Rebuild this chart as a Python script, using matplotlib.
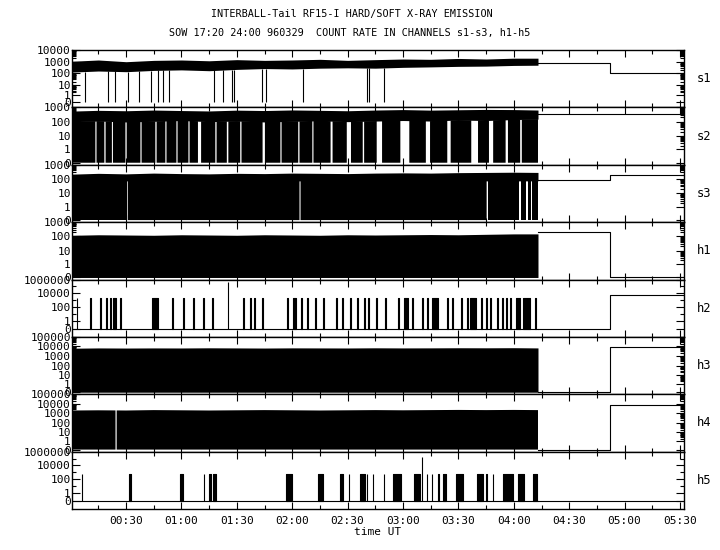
import numpy as np
import matplotlib
matplotlib.use("Agg")
import matplotlib.pyplot as plt
from matplotlib.ticker import FixedLocator, FuncFormatter, MultipleLocator, NullFormatter

plt.rcParams["font.family"] = ["DejaVu Sans Mono"]

# ================= data (time = minutes after 00:00 UT) =================
TITLE1 = "INTERBALL-Tail RF15-I HARD/SOFT X-RAY EMISSION"
TITLE2 = "SOW 17:20 24:00 960329  COUNT RATE IN CHANNELS s1-s3, h1-h5"
XLABEL = "time UT"
CHANNELS = ["s1", "s2", "s3", "h1", "h2", "h3", "h4", "h5"]

T_START, T_END_DATA, T_SWITCH, T_STOP = 0.9, 253.1, 292.1, 331.9

ENV_T = [0.9, 15, 30, 45, 60, 75, 90, 105, 120, 135, 150, 165, 180, 195, 210, 225, 240, 253.1]

# s1
S1_HI = [1100, 1400, 1000, 1300, 1400, 1200, 1500, 1300, 1400, 1600, 1300, 1500, 1700, 1600, 1900, 1700, 2000, 2000]
S1_LO = [130, 160, 140, 180, 200, 170, 220, 260, 240, 280, 300, 280, 330, 360, 400, 420, 480, 500]
S1_DROPS = [7.8, 20.3, 24.0, 31.1, 37.0, 43.5, 47.3, 50.0, 53.3, 77.6, 82.5, 87.4, 88.5,
            103.6, 105.8, 125.8, 160.5, 161.6, 169.7]
S1_TAIL = [713, 110]

# s2
S2_HI = [550, 620, 580, 650, 600, 560, 640, 600, 660, 620, 580, 650, 700, 640, 680, 720, 700, 650]
S2_LO = [100, 110, 95, 105, 120, 100, 110, 95, 105, 115, 100, 110, 120, 110, 130, 120, 140, 150]
S2_GAP_START = [13.4, 18.3, 22.4, 29.7, 37.8, 45.9, 51.3, 57.3, 63.8, 69.0, 78.4, 84.6, 91.9, 104.0,
                113.6, 123.3, 130.9, 140.8, 149.6, 158.2, 165.8, 178.6, 192.4, 204.0, 217.0, 226.6,
                235.6, 243.5]
S2_GAP_END = [14.0, 18.9, 22.9, 30.3, 38.4, 46.5, 51.9, 57.9, 64.4, 70.6, 79.0, 85.4, 92.5, 105.2,
              114.2, 123.9, 131.5, 141.8, 151.8, 158.9, 168.6, 183.4, 194.6, 205.8, 220.6, 228.8,
              236.8, 244.3]
S2_TAIL = [320, 320]

# s3
S3_HI = [220, 250, 230, 260, 240, 230, 250, 240, 260, 250, 240, 260, 270, 260, 280, 290, 300, 290]
S3_GAP_TOP = 74
S3_GAP_START = [30.4, 124.0, 225.3, 243.1, 246.9, 249.1]
S3_GAP_END = [30.9, 124.5, 225.8, 243.6, 247.4, 249.6]
S3_TAIL = [83, 177]

# h1
H1_HI = [120, 130, 125, 120, 130, 125, 120, 130, 125, 120, 130, 125, 130, 135, 130, 140, 150, 150]
H1_TAIL = [188, 0]

# h2
H2_BAR_START = [3.5, 10.5, 15.9, 19.2, 21.3, 23.0, 26.7, 44.1, 54.9, 60.9, 66.3, 71.7, 76.6, 93.4,
                97.2, 99.4, 103.6, 117.2, 120.5, 124.7, 128.0, 132.3, 136.7, 143.7, 147.0, 151.3,
                155.1, 158.9, 161.1, 165.4, 170.3, 177.3, 180.6, 184.9, 190.3, 193.0, 195.7, 203.8,
                206.5, 211.4, 214.7, 216.3, 222.2, 224.9, 227.1, 230.9, 233.6, 235.8, 237.9, 241.2,
                244.9, 251.4]
H2_BAR_END = [3.5, 11.0, 16.4, 19.7, 21.8, 24.6, 27.2, 47.4, 55.4, 61.4, 66.8, 72.2, 77.1, 93.9,
              97.7, 99.9, 104.1, 117.7, 122.1, 125.2, 128.5, 132.8, 137.2, 144.2, 147.5, 151.8,
              155.6, 159.4, 161.6, 165.9, 170.8, 177.8, 182.7, 185.4, 190.8, 193.5, 198.9, 204.3,
              207.0, 211.9, 215.2, 219.6, 222.7, 225.4, 227.6, 231.4, 234.1, 236.3, 238.4, 243.3,
              248.7, 251.9]
H2_BAR_TOP = 1800
H2_SPIKE_T, H2_SPIKE_V = 85.2, 5e5
H2_TAIL = [0, 5900]

# h3
H3_HI = [6500, 7000, 6800, 7000, 6900, 7200, 7000, 6800, 7100, 7000, 6900, 7200, 7000, 7100, 7300, 7200, 7400, 7000]
H3_TAIL = [0, 8900]

# h4
H4_HI = [2000, 2100, 2000, 2200, 2100, 2000, 2100, 2200, 2100, 2000, 2100, 2200, 2100, 2200, 2300, 2200, 2300, 2200]
H4_GAP_START = [24.3]
H4_GAP_END = [24.9]
H4_TAIL = [0, 8200]

# h5
H5_BAR_START = [6.2, 31.6, 59.2, 72.2, 74.9, 77.0, 116.6, 134.0, 145.9, 150.8, 156.7, 160.5, 163.7,
                169.7, 174.6, 185.9, 193.0, 195.7, 198.9, 201.6, 208.7, 220.1, 224.9, 228.7, 234.1,
                242.3, 250.4]
H5_BAR_END = [6.2, 32.7, 60.9, 72.2, 76.0, 78.7, 119.9, 136.7, 147.5, 150.8, 159.4, 160.5, 163.7,
              169.7, 178.9, 189.2, 193.0, 195.7, 199.5, 203.3, 212.5, 223.3, 225.5, 228.7, 239.6,
              245.5, 252.6]
H5_BAR_TOP = 630
H5_SPIKE_T, H5_SPIKE_V = 190.3, 1.9e5
H5_TAIL = [0, 0]

Y_TICKS = {
    "s1": [0, 1, 10, 100, 1000, 10000],
    "s2": [0, 1, 10, 100, 1000],
    "s3": [0, 1, 10, 100, 1000],
    "h1": [0, 1, 10, 100, 1000],
    "h2": [0, 1, 100, 10000, 1000000],
    "h3": [0, 1, 10, 100, 1000, 10000, 100000],
    "h4": [0, 1, 10, 100, 1000, 10000, 100000],
    "h5": [0, 1, 100, 10000, 1000000],
}

# ================= axis scale settings (style) =================
SCALE = {  # shift c, y-min, y-max
    "s1": (0.4, -0.274, 1e4),
    "s2": (0.133, -0.037, 1e3),
    "s3": (0.133, -0.037, 1e3),
    "h1": (0.133, -0.037, 1e3),
    "h2": (0.072, -0.067, 1e6),
    "h3": (0.164, -0.0636, 1e5),
    "h4": (0.164, -0.0636, 1e5),
    "h5": (0.072, -0.067, 1e6),
}


def shifted_log(c):
    fwd = lambda v: np.log10(np.maximum(np.asarray(v, dtype=float) + c, 1e-12))
    inv = lambda y: 10.0 ** np.asarray(y, dtype=float) - c
    return fwd, inv


LW = 0.8
FS = 8.0
FS_TITLE = 7.3

fig = plt.figure(figsize=(7.2, 5.5), dpi=100)
axes = fig.subplots(8, 1, sharex=True, gridspec_kw=dict(hspace=0))
fig.subplots_adjust(left=72.3 / 720, right=683.5 / 720, top=1 - 50 / 550, bottom=1 - 509 / 550)

grid = np.linspace(T_START, T_END_DATA, 4000)


def gap_mask(starts, ends):
    m = np.ones_like(grid, dtype=bool)
    for a, b in zip(starts, ends):
        m &= ~((grid >= a) & (grid <= b))
    return m


def tail(ax, vals):
    ax.step([T_END_DATA, T_SWITCH, T_STOP], [vals[0], vals[1], vals[1]], where="post",
            color="k", lw=LW)


def bars(ax, starts, ends, top):
    for a, b in zip(starts, ends):
        ax.fill_between([a, b], [0, 0], [top, top], color="k", lw=LW, edgecolor="k")


for ax, ch in zip(axes, CHANNELS):
    c, y0, y1 = SCALE[ch]
    ax.set_yscale("function", functions=shifted_log(c))
    ax.set_ylim(y0, y1)
    ax.set_xlim(T_START, T_STOP)

    if ch == "s1":
        ax.fill_between(ENV_T, S1_LO, S1_HI, color="k", lw=0)
        ax.vlines(S1_DROPS, 0, np.interp(S1_DROPS, ENV_T, S1_LO), color="k", lw=LW)
        tail(ax, S1_TAIL)
    elif ch == "s2":
        lo = np.interp(grid, ENV_T, S2_LO)
        ax.fill_between(ENV_T, S2_LO, S2_HI, color="k", lw=0)
        ax.fill_between(grid, 0, lo, where=gap_mask(S2_GAP_START, S2_GAP_END), color="k", lw=0)
        tail(ax, S2_TAIL)
    elif ch == "s3":
        ax.fill_between(ENV_T, S3_GAP_TOP, S3_HI, color="k", lw=0)
        ax.fill_between(grid, 0, S3_GAP_TOP, where=gap_mask(S3_GAP_START, S3_GAP_END), color="k", lw=0)
        tail(ax, S3_TAIL)
    elif ch == "h1":
        ax.fill_between(ENV_T, 0, H1_HI, color="k", lw=0)
        tail(ax, H1_TAIL)
    elif ch == "h2":
        ax.hlines(0, T_START, T_END_DATA, color="k", lw=LW)
        bars(ax, H2_BAR_START, H2_BAR_END, H2_BAR_TOP)
        ax.vlines([H2_SPIKE_T], 0, H2_SPIKE_V, color="k", lw=LW)
        tail(ax, H2_TAIL)
    elif ch == "h3":
        ax.fill_between(ENV_T, 0, H3_HI, color="k", lw=0)
        tail(ax, H3_TAIL)
    elif ch == "h4":
        hi = np.interp(grid, ENV_T, H4_HI)
        ax.fill_between(grid, 0, hi, where=gap_mask(H4_GAP_START, H4_GAP_END), color="k", lw=0)
        tail(ax, H4_TAIL)
    elif ch == "h5":
        ax.hlines(0, T_START, T_END_DATA, color="k", lw=LW)
        bars(ax, H5_BAR_START, H5_BAR_END, H5_BAR_TOP)
        ax.vlines([H5_SPIKE_T], 0, H5_SPIKE_V, color="k", lw=LW)
        tail(ax, H5_TAIL)

    # y ticks
    ticks = Y_TICKS[ch]
    ax.yaxis.set_major_locator(FixedLocator(ticks))
    ax.yaxis.set_major_formatter(FuncFormatter(lambda v, p: f"{int(round(v))}"))
    top_dec = int(round(np.log10(y1)))
    if ch in ("h2", "h5"):
        minor = [10.0 ** d for d in range(1, top_dec, 2)]
    else:
        minor = [k * 10.0 ** d for d in range(0, top_dec) for k in range(2, 10)]
    ax.yaxis.set_minor_locator(FixedLocator(minor))
    ax.yaxis.set_minor_formatter(NullFormatter())

    ax.xaxis.set_major_locator(MultipleLocator(30))
    ax.xaxis.set_minor_locator(MultipleLocator(15))
    ax.xaxis.set_major_formatter(FuncFormatter(lambda v, p: f"{int(v)//60:02d}:{int(v)%60:02d}"))

    ax.tick_params(axis="both", which="both", direction="in", top=True, right=True,
                   width=0.8, labelsize=FS, pad=1.0)
    ax.tick_params(axis="x", which="major", length=5)
    ax.tick_params(axis="x", which="minor", length=3)
    ax.tick_params(axis="y", which="major", length=6)
    ax.tick_params(axis="y", which="minor", length=3)
    for s in ax.spines.values():
        s.set_linewidth(1.0)

    ax.text(1.022, 0.5, ch, transform=ax.transAxes, ha="left", va="center", fontsize=FS + 0.7)

axes[-1].tick_params(axis="x", labelsize=FS, pad=5)
axes[-1].set_xlabel(XLABEL, fontsize=FS, labelpad=1)

fig.text(352 / 720, 1 - 14 / 550, TITLE1, ha="center", va="center", fontsize=FS_TITLE)
fig.text(350 / 720, 1 - 33 / 550, TITLE2, ha="center", va="center", fontsize=FS_TITLE)

fig.savefig("out.png", dpi=100)
